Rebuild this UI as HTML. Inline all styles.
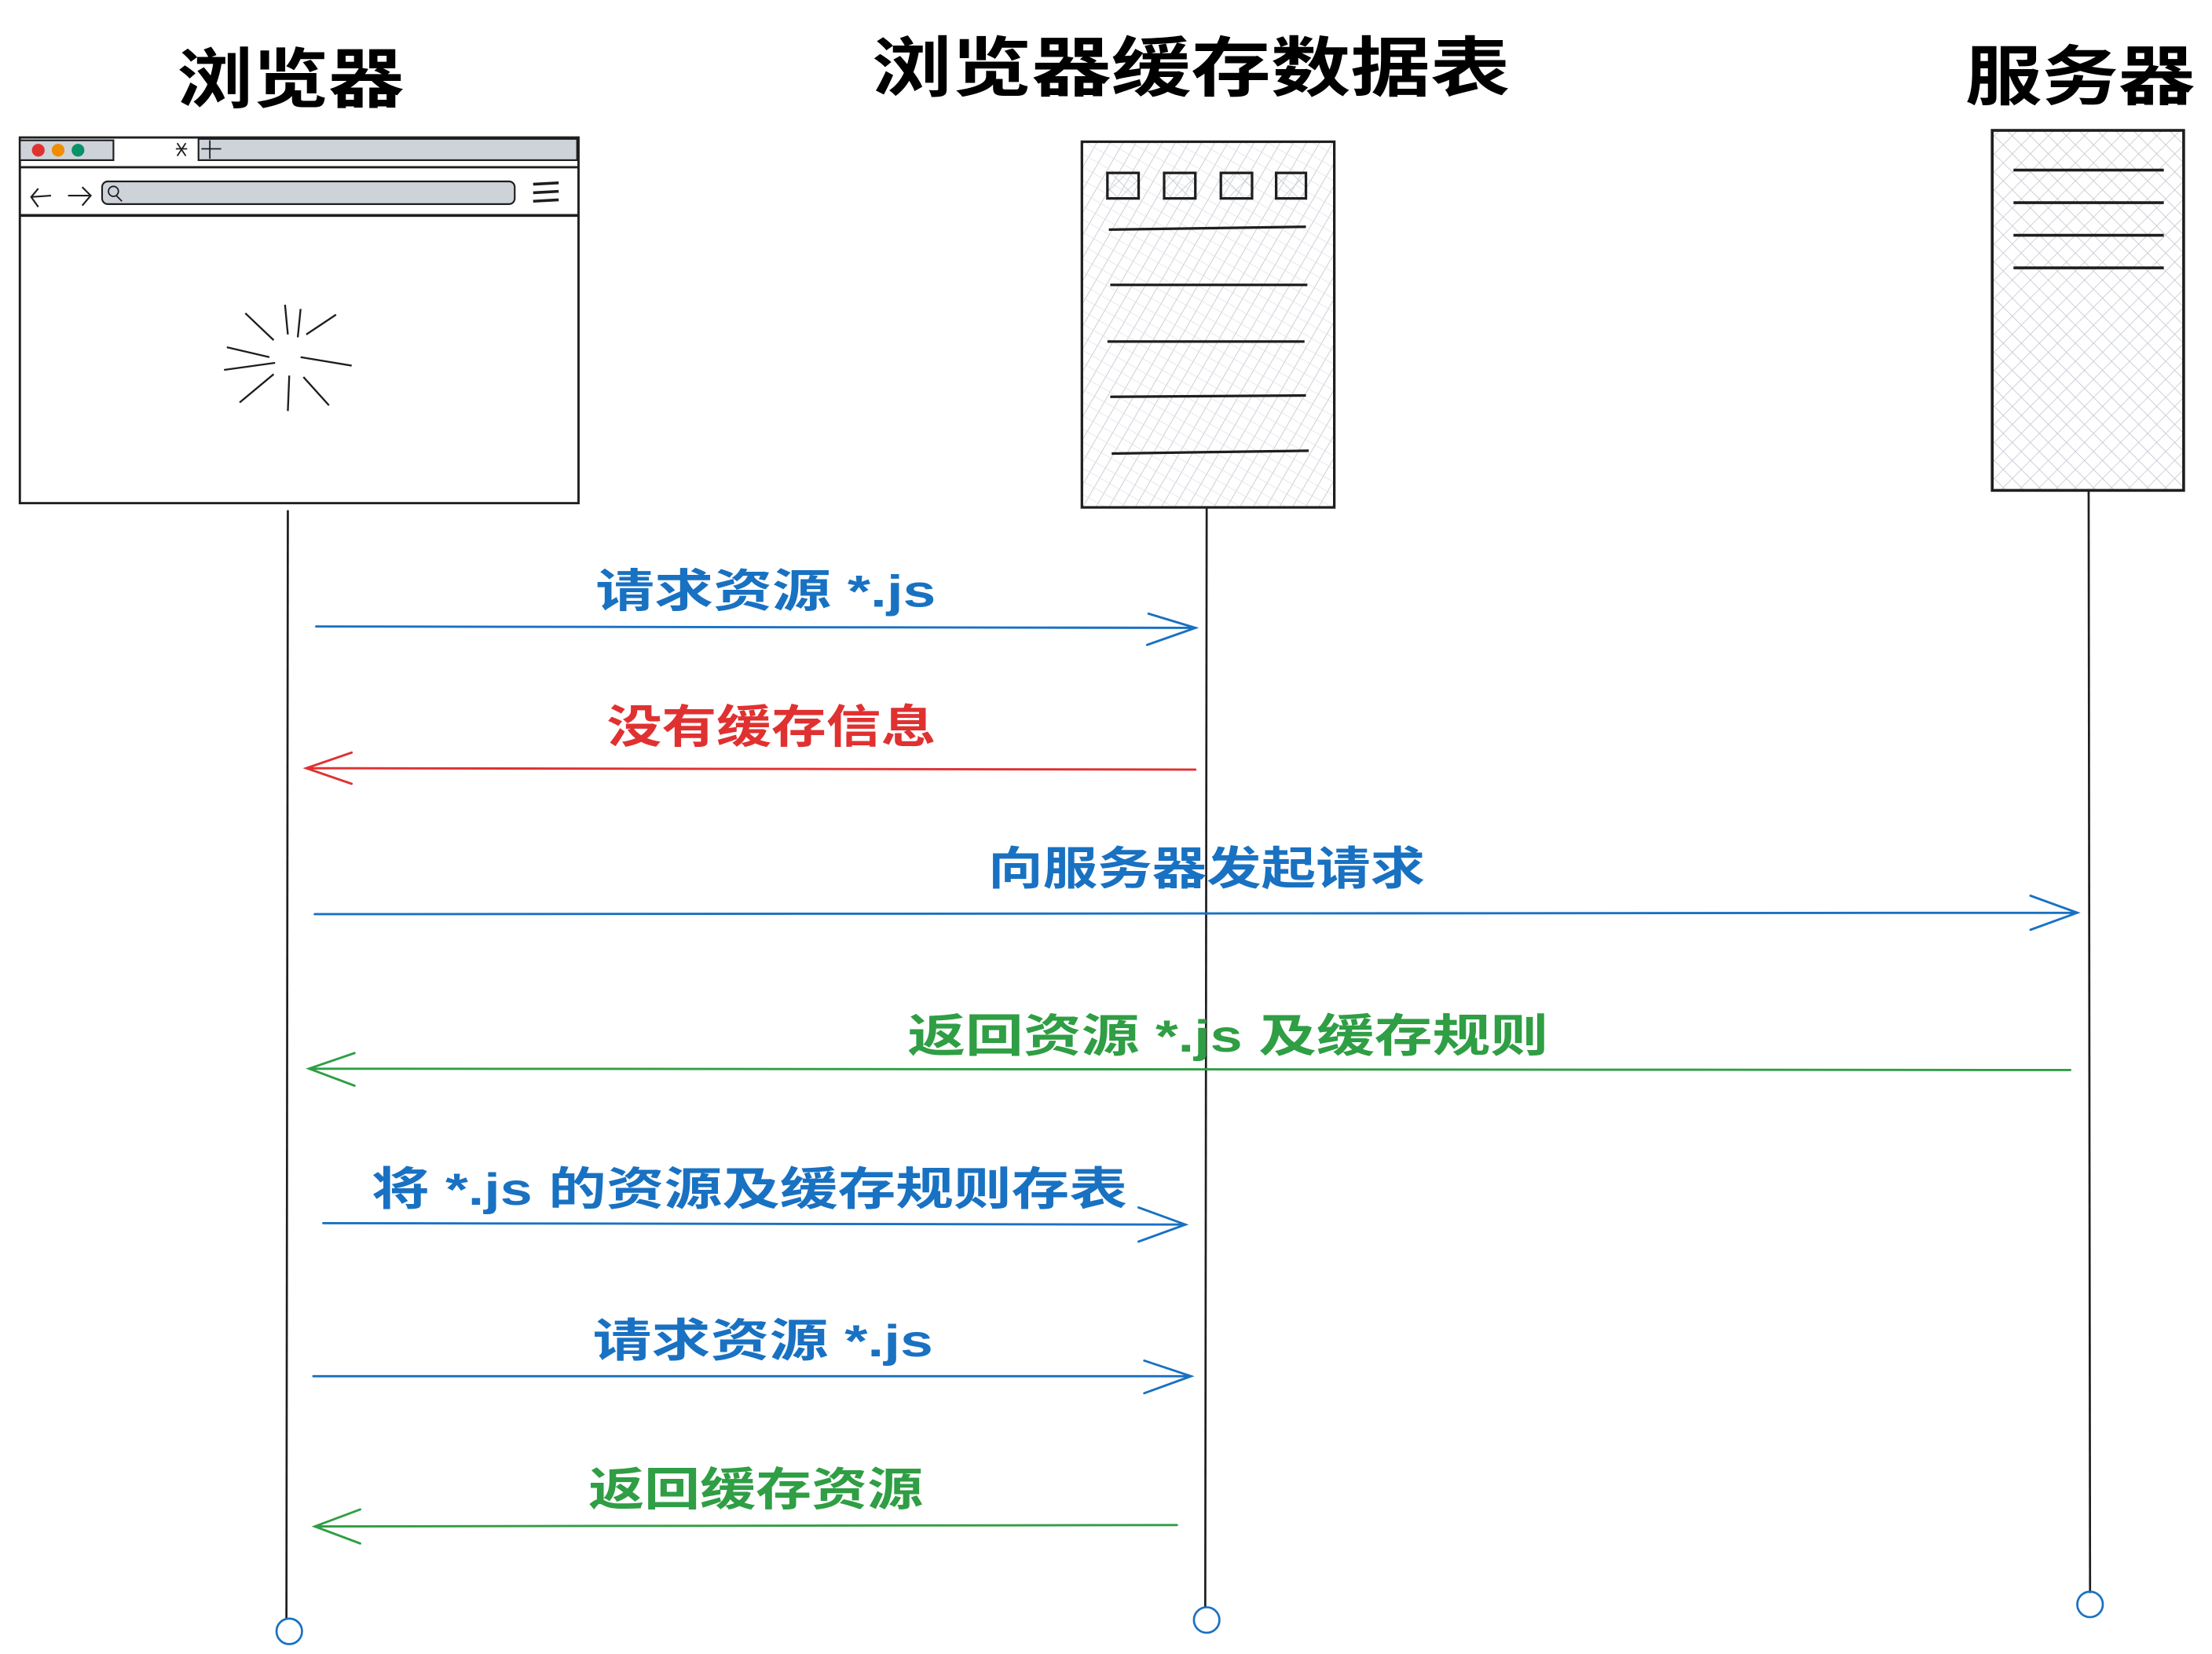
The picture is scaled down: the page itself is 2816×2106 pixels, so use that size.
<!DOCTYPE html>
<html><head><meta charset="utf-8"><style>
html,body{margin:0;padding:0;background:#fff;width:2816px;height:2106px;overflow:hidden}
svg{display:block}
text{font-family:"Liberation Sans","Noto Sans CJK SC",sans-serif;font-weight:bold}
</style></head><body>
<svg width="2816" height="2106" viewBox="0 0 1560 1167" preserveAspectRatio="none" xmlns="http://www.w3.org/2000/svg">
<defs>
<pattern id="h1" width="8" height="8" patternUnits="userSpaceOnUse" patternTransform="rotate(30)">
<line x1="0" y1="0" x2="0" y2="8" stroke="#c6cbd2" stroke-width="1"/>
<line x1="0" y1="0" x2="8" y2="0" stroke="#dde0e5" stroke-width="0.8"/>
</pattern>
<pattern id="h2" width="9" height="9" patternUnits="userSpaceOnUse" patternTransform="rotate(45)">
<line x1="0" y1="0" x2="0" y2="9" stroke="#c3c8cf" stroke-width="0.9"/>
<line x1="0" y1="0" x2="9" y2="0" stroke="#c3c8cf" stroke-width="0.9"/>
</pattern>
</defs>
<rect width="1560" height="1167" fill="#fff"/>

<!-- titles -->
<text x="205" y="72" font-size="46" text-anchor="middle" textLength="160" lengthAdjust="spacingAndGlyphs">浏览器</text>
<text x="840" y="64" font-size="46" text-anchor="middle" textLength="450" lengthAdjust="spacingAndGlyphs">浏览器缓存数据表</text>
<text x="1467" y="70" font-size="46" text-anchor="middle" textLength="162" lengthAdjust="spacingAndGlyphs">服务器</text>

<!-- browser window -->
<g stroke="#1e1e1e" fill="none" stroke-width="1.6">
<rect x="14" y="97" width="394" height="258" fill="#fff"/>
<rect x="14" y="99" width="66" height="14" fill="#ced3da" stroke-width="1.2"/>
<rect x="140" y="98" width="267" height="15" fill="#ced3da" stroke-width="1.2"/>
<line x1="14" y1="118" x2="408" y2="118"/>
<line x1="14" y1="152" x2="408" y2="152" stroke-width="2"/>
<rect x="72" y="128" width="291" height="16" rx="4" fill="#ced3da" stroke-width="1.2"/>
<circle cx="80" cy="135" r="3.5" stroke-width="1"/>
<line x1="82" y1="138" x2="86" y2="142" stroke-width="1"/>
<path d="M22 139 L36 138 M27 133 L22 139 L27 146 M48 138 L63 138 M58 132 L64 138 L58 145" stroke-width="1.2"/>
<path d="M376 130 L394 129 M376 136 L394 135 M376 142 L394 141" stroke-width="2"/>
<path d="M148 99 L148 112 M142 105 L156 105" stroke-width="1"/>
<path d="M125 101 L131 110 M131 101 L125 110 M124 105 L132 105" stroke-width="1"/>
<path d="M201 215 L203 236 M237 222 L216 236 M248 258 L212 252 M232 286 L214 266 M203 290 L204 265 M169 284 L193 264 M158 261 L194 256 M173 221 L193 240 M212 218 L210 238 M160 245 L190 252" stroke-width="1.3"/>
</g>
<circle cx="27" cy="106" r="4.5" fill="#e03131"/>
<circle cx="41" cy="106" r="4.5" fill="#f08c00"/>
<circle cx="55" cy="106" r="4.5" fill="#099268"/>

<!-- cache table -->
<g stroke="#1e1e1e" stroke-width="1.8">
<rect x="763" y="100" width="178" height="258" fill="url(#h1)"/>
<rect x="781" y="122" width="22" height="18" fill="url(#h2)"/>
<rect x="821" y="122" width="22" height="18" fill="url(#h2)"/>
<rect x="861" y="122" width="22" height="18" fill="url(#h2)"/>
<rect x="900" y="122" width="21" height="18" fill="url(#h2)"/>
<line x1="782" y1="162" x2="921" y2="160"/>
<line x1="783" y1="201" x2="922" y2="201"/>
<line x1="781" y1="241" x2="920" y2="241"/>
<line x1="783" y1="280" x2="921" y2="279"/>
<line x1="784" y1="320" x2="923" y2="318"/>
</g>

<!-- server -->
<g stroke="#1e1e1e" stroke-width="2">
<rect x="1405" y="92" width="135" height="254" fill="url(#h2)"/>
<line x1="1420" y1="120" x2="1526" y2="120"/>
<line x1="1420" y1="143" x2="1526" y2="143"/>
<line x1="1420" y1="166" x2="1526" y2="166"/>
<line x1="1420" y1="189" x2="1526" y2="189"/>
</g>

<!-- lifelines -->
<g stroke="#1e1e1e" stroke-width="1.5" fill="none">
<line x1="203" y1="360" x2="202" y2="1142"/>
<circle cx="204" cy="1151" r="9" stroke="#1971c2"/>
<line x1="851" y1="358" x2="850" y2="1134"/>
<circle cx="851" cy="1143" r="9" stroke="#1971c2"/>
<line x1="1473" y1="345" x2="1474" y2="1124"/>
<circle cx="1474" cy="1132" r="9" stroke="#1971c2"/>
</g>

<!-- arrows -->
<g fill="none" stroke-width="1.6" stroke-linecap="round">
<g stroke="#1971c2">
<path d="M223 442 L843 443 M810 433 L843 443 L809 455"/>
<path d="M222 645 L1465 644 M1432 632 L1465 644 L1432 656"/>
<path d="M228 863 L836 864 M803 852 L836 864 L803 876"/>
<path d="M221 971 L840 971 M807 960 L840 971 L807 983"/>
</g>
<path stroke="#e03131" d="M843 543 L216 542 M248 531 L216 542 L248 553"/>
<g stroke="#2f9e44">
<path d="M1460 755 L218 754 M250 743 L218 754 L250 766"/>
<path d="M830 1076 L222 1077 M254 1065 L222 1077 L254 1089"/>
</g>
</g>

<!-- labels -->
<g font-size="32">
<text x="420" y="428" fill="#1971c2" textLength="240" lengthAdjust="spacingAndGlyphs">请求资源 *.js</text>
<text x="428" y="524" fill="#e03131" textLength="232" lengthAdjust="spacingAndGlyphs">没有缓存信息</text>
<text x="697" y="624" fill="#1971c2" textLength="308" lengthAdjust="spacingAndGlyphs">向服务器发起请求</text>
<text x="640" y="742" fill="#2f9e44" textLength="452" lengthAdjust="spacingAndGlyphs">返回资源 *.js 及缓存规则</text>
<text x="262" y="850" fill="#1971c2" textLength="533" lengthAdjust="spacingAndGlyphs">将 *.js 的资源及缓存规则存表</text>
<text x="418" y="957" fill="#1971c2" textLength="240" lengthAdjust="spacingAndGlyphs">请求资源 *.js</text>
<text x="415" y="1062" fill="#2f9e44" textLength="236" lengthAdjust="spacingAndGlyphs">返回缓存资源</text>
</g>
</svg>
</body></html>
